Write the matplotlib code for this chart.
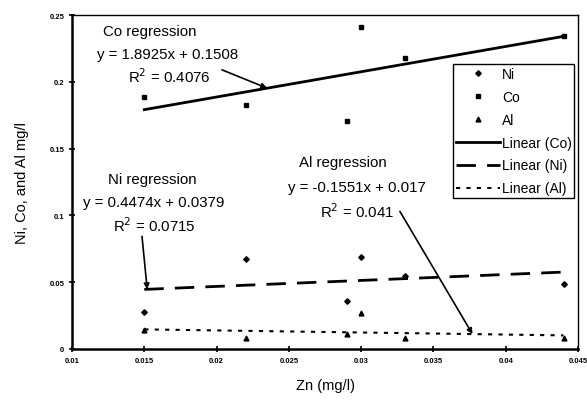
import numpy as np
import matplotlib
matplotlib.use("Agg")
import matplotlib.pyplot as plt

# --- data ---
zn = [0.015, 0.022, 0.029, 0.030, 0.033, 0.044]
ni = [0.028, 0.067, 0.036, 0.069, 0.055, 0.049]
co = [0.189, 0.183, 0.171, 0.241, 0.218, 0.234]
al = [0.014, 0.008, 0.011, 0.027, 0.008, 0.008]

# regression coefficients as printed on the chart
co_fit = (1.8925, 0.1508, 0.4076)
ni_fit = (0.4474, 0.0379, 0.0715)
al_fit = (-0.1551, 0.017, 0.041)

x_ticks = [0.01, 0.015, 0.02, 0.025, 0.03, 0.035, 0.04, 0.045]
y_ticks = [0, 0.05, 0.1, 0.15, 0.2, 0.25]

plt.rcParams['font.family'] = ['Liberation Sans', 'DejaVu Sans']

fig = plt.figure(figsize=(5.87, 4.02), dpi=100)
ax = fig.add_axes([0.1227, 0.1294, 0.8620, 0.8306])

# markers
ax.plot(zn, ni, linestyle='none', marker='D', ms=2.8, color='black', label='Ni')
ax.plot(zn, co, linestyle='none', marker='s', ms=3.2, color='black', label='Co')
ax.plot(zn, al, linestyle='none', marker='^', ms=3.5, color='black', label='Al')

# trend lines
xl = np.array([min(zn), max(zn)])
ax.plot(xl, co_fit[0] * xl + co_fit[1], color='black', lw=2.0, label='Linear (Co)')
ax.plot(xl, ni_fit[0] * xl + ni_fit[1], color='black', lw=2.0, dashes=(7, 4), label='Linear (Ni)')
ax.plot(xl, al_fit[0] * xl + al_fit[1], color='black', lw=1.5, dashes=(2, 3), label='Linear (Al)')

ax.set_xlim(0.01, 0.045)
ax.set_ylim(0, 0.25)
ax.set_xticks(x_ticks)
ax.set_yticks(y_ticks)
ax.set_xticklabels([f"{v:g}" for v in x_ticks])
ax.set_yticklabels([f"{v:g}" for v in y_ticks])
ax.tick_params(direction='inout', length=5, width=1.2, labelsize=5.5, pad=3)
for lab in ax.get_xticklabels() + ax.get_yticklabels():
    lab.set_fontweight('bold')

ax.spines['left'].set_linewidth(1.8)
ax.spines['bottom'].set_linewidth(1.8)
ax.spines['top'].set_linewidth(1.0)
ax.spines['right'].set_linewidth(1.0)

ax.set_xlabel("Zn (mg/l)", fontsize=10.5, labelpad=10)
ax.set_ylabel("Ni, Co, and Al mg/l", fontsize=10.5, labelpad=15)

# regression annotations
fs = 10.8
def label_block(name, fit, pos, arrow_from, arrow_x):
    sign = '+' if fit[1] >= 0 else '-'
    ax.text(pos[0][0], pos[0][1], f"{name} regression", ha='center', va='center', fontsize=fs)
    ax.text(pos[1][0], pos[1][1], f"y = {fit[0]:g}x {sign} {abs(fit[1]):g}",
            ha='center', va='center', fontsize=fs)
    ax.text(pos[2][0], pos[2][1], f"R$^2$ = {fit[2]:g}", ha='center', va='center', fontsize=fs)
    ax.annotate("", xy=(arrow_x, fit[0] * arrow_x + fit[1]), xytext=arrow_from,
                arrowprops=dict(arrowstyle='-|>', color='black', lw=1.2, mutation_scale=8,
                                shrinkA=0, shrinkB=0))

label_block("Co", co_fit, [(0.01539, 0.2381), (0.01664, 0.2209), (0.01671, 0.2045)],
            (0.02037, 0.209), 0.0235)
label_block("Ni", ni_fit, [(0.01553, 0.1269), (0.01567, 0.1097), (0.01567, 0.0933)],
            (0.01484, 0.0843), 0.0152)
label_block("Al", al_fit, [(0.02874, 0.1403), (0.02971, 0.1216), (0.02971, 0.1037)],
            (0.03268, 0.103), 0.0377)

leg = ax.legend(loc='upper right', bbox_to_anchor=(0.993, 0.853), fontsize=10,
                handlelength=3.2, handletextpad=0.1, borderaxespad=0, borderpad=0.2,
                labelspacing=0.64, fancybox=False, framealpha=1, edgecolor='black')
leg.get_frame().set_linewidth(1.0)

plt.savefig("out.png", dpi=100)
plt.close()
